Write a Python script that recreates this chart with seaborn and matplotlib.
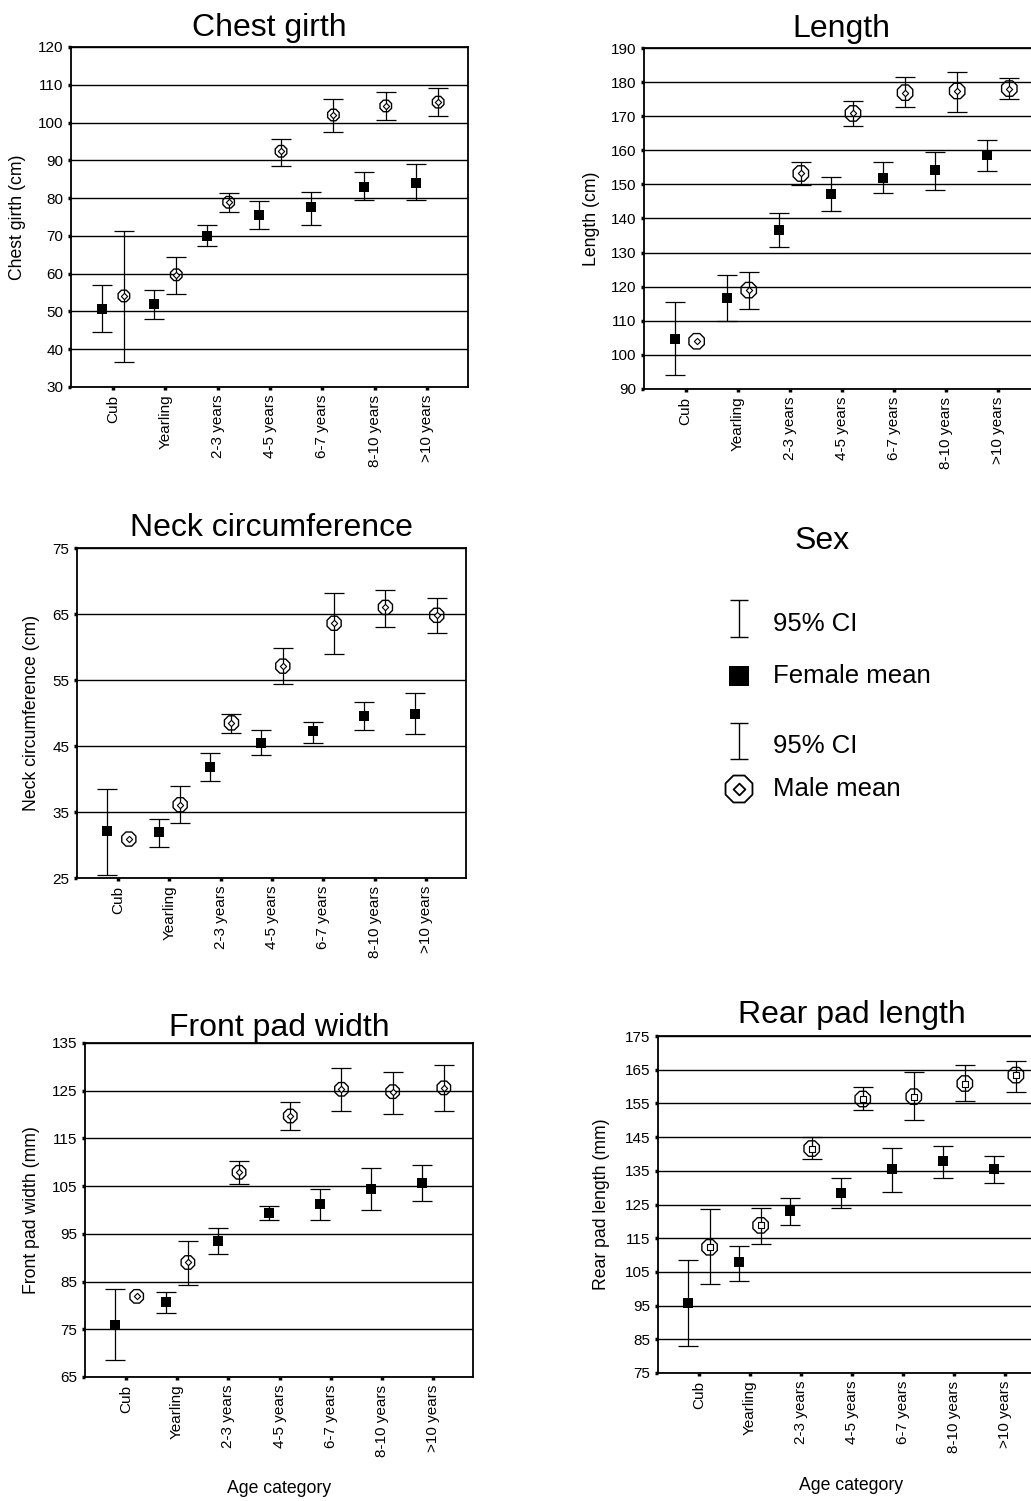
import numpy as np
import matplotlib
matplotlib.use("Agg")
import matplotlib.pyplot as plt
import seaborn as sns

# ── Data ───────────────────────────────────────────────────────────────────────
AGE_CATS = ["Cub", "Yearling", "2-3 years", "4-5 years", "6-7 years", "8-10 years", ">10 years"]

chest_f_mean = [50.7, 52.1, 69.9, 75.4, 77.6, 83.0, 84.0]
chest_f_lo = [44.5, 47.9, 67.2, 71.7, 73.0, 79.6, 79.6]
chest_f_hi = [56.9, 55.8, 73.0, 79.3, 81.6, 86.8, 88.9]
chest_m_mean = [54.1, 59.7, 78.9, 92.4, 102.0, 104.4, 105.4]
chest_m_lo = [36.6, 54.5, 76.4, 88.6, 97.5, 100.6, 101.7]
chest_m_hi = [71.3, 64.4, 81.3, 95.7, 106.2, 108.2, 109.2]

length_f_mean = [104.6, 116.6, 136.6, 147.2, 151.9, 154.3, 158.6]
length_f_lo = [94.0, 109.8, 131.6, 142.3, 147.4, 148.5, 153.9]
length_f_hi = [115.4, 123.5, 141.6, 152.3, 156.5, 159.6, 163.0]
length_m_mean = [104.0, 119.0, 153.2, 170.8, 176.9, 177.4, 178.1]
length_m_lo = [np.nan, 113.5, 149.7, 167.2, 172.6, 171.2, 175.1]
length_m_hi = [np.nan, 124.3, 156.5, 174.6, 181.5, 183.1, 181.1]

neck_f_mean = [32.1, 31.9, 41.8, 45.5, 47.2, 49.5, 49.8]
neck_f_lo = [25.4, 29.7, 39.7, 43.7, 45.5, 47.4, 46.8]
neck_f_hi = [38.5, 33.9, 43.9, 47.4, 48.7, 51.6, 53.1]
neck_m_mean = [30.9, 36.1, 48.5, 57.1, 63.6, 66.0, 64.8]
neck_m_lo = [np.nan, 33.4, 47.0, 54.4, 59.0, 63.1, 62.1]
neck_m_hi = [np.nan, 38.9, 49.9, 59.8, 68.2, 68.6, 67.4]

front_f_mean = [75.9, 80.8, 93.4, 99.4, 101.2, 104.5, 105.7]
front_f_lo = [68.5, 78.4, 90.7, 97.9, 97.9, 99.9, 101.9]
front_f_hi = [83.5, 82.9, 96.3, 100.9, 104.3, 108.9, 109.5]
front_m_mean = [81.9, 89.0, 107.9, 119.7, 125.3, 124.8, 125.6]
front_m_lo = [np.nan, 84.3, 105.5, 116.7, 120.7, 120.2, 120.7]
front_m_hi = [np.nan, 93.6, 110.3, 122.7, 129.8, 129.0, 130.3]

rear_f_mean = [95.7, 107.9, 123.1, 128.5, 135.4, 137.9, 135.4]
rear_f_lo = [83.0, 102.2, 118.8, 124.0, 128.8, 132.9, 131.3]
rear_f_hi = [108.4, 112.8, 127.0, 132.9, 141.9, 142.5, 139.5]
rear_m_mean = [112.3, 118.8, 141.6, 156.3, 157.0, 160.9, 163.4]
rear_m_lo = [101.3, 113.3, 138.5, 153.0, 150.1, 155.7, 158.5]
rear_m_hi = [123.6, 123.9, 145.1, 159.8, 164.3, 166.4, 167.7]

# ── Style ──────────────────────────────────────────────────────────────────────
sns.set_theme(style="white")
plt.rcParams["font.family"] = ["Liberation Sans", "DejaVu Sans"]
plt.rcParams.update({
    "axes.edgecolor": "black",
    "text.color": "black",
    "axes.labelcolor": "black",
    "xtick.color": "black",
    "ytick.color": "black",
})

W, H = 1031, 1501
fig = plt.figure(figsize=(W / 100, H / 100), dpi=100, facecolor="white")


def px_rect(left, top, right, bottom):
    return [left / W, 1 - bottom / H, (right - left) / W, (bottom - top) / H]


panels = [
    dict(title="Chest girth", ylabel="Chest girth (cm)", ylim=(30, 120),
         rect=px_rect(71, 47, 468, 387), lab_x=-0.136, tpad=8, xlabel=False,
         f=(chest_f_mean, chest_f_lo, chest_f_hi), m=(chest_m_mean, chest_m_lo, chest_m_hi),
         msize=9, inner="D"),
    dict(title="Length", ylabel="Length (cm)", ylim=(90, 190),
         rect=px_rect(644, 48, 1039, 389), lab_x=-0.132, tpad=8, xlabel=False,
         f=(length_f_mean, length_f_lo, length_f_hi), m=(length_m_mean, length_m_lo, length_m_hi),
         msize=12, inner="D"),
    dict(title="Neck circumference", ylabel="Neck circumference (cm)", ylim=(25, 75),
         rect=px_rect(77, 548, 466, 878), lab_x=-0.116, tpad=9, xlabel=False,
         f=(neck_f_mean, neck_f_lo, neck_f_hi), m=(neck_m_mean, neck_m_lo, neck_m_hi),
         msize=11, inner="D"),
    dict(title="Front pad width", ylabel="Front pad width (mm)", ylim=(65, 135),
         rect=px_rect(85, 1043, 473, 1377), lab_x=-0.137, tpad=5, xlabel=True,
         f=(front_f_mean, front_f_lo, front_f_hi), m=(front_m_mean, front_m_lo, front_m_hi),
         msize=10.5, inner="D"),
    dict(title="Rear pad length", ylabel="Rear pad length (mm)", ylim=(75, 175),
         rect=px_rect(658, 1036, 1045, 1373), lab_x=-0.145, tpad=9, xlabel=True,
         f=(rear_f_mean, rear_f_lo, rear_f_hi), m=(rear_m_mean, rear_m_lo, rear_m_hi),
         msize=12, inner="s"),
]

x = np.arange(len(AGE_CATS))
OFF = 0.21

for p in panels:
    ax = fig.add_axes(p["rect"])
    lo_y, hi_y = p["ylim"]
    ax.set_ylim(lo_y, hi_y)
    ax.set_xlim(-0.8, len(AGE_CATS) - 1 + 0.78)
    ax.set_yticks(np.arange(lo_y, hi_y + 1, 10))
    ax.yaxis.grid(True, color="black", linewidth=1.0)
    ax.set_axisbelow(True)

    for (mean, lo, hi), dx in ((p["f"], -OFF), (p["m"], OFF)):
        mean, lo, hi = np.array(mean), np.array(lo), np.array(hi)
        ax.errorbar(x + dx, mean, yerr=[mean - lo, hi - mean], fmt="none",
                    ecolor="black", elinewidth=0.9, capsize=7.5, capthick=0.9, zorder=3)

    fm = p["f"][0]
    mm = p["m"][0]
    sns.scatterplot(x=x - OFF, y=fm, marker="s", s=7.5 ** 2, color="black",
                    edgecolor="black", linewidth=0, ax=ax, zorder=4)
    sns.scatterplot(x=x + OFF, y=mm, marker="8", s=p["msize"] ** 2, facecolor="none",
                    edgecolor="black", linewidth=1.0, ax=ax, zorder=4)
    inner_s = 3.2 if p["inner"] == "D" else 4.5
    sns.scatterplot(x=x + OFF, y=mm, marker=p["inner"], s=inner_s ** 2, color="white",
                    edgecolor="black", linewidth=0.8, ax=ax, zorder=5)

    ax.set_xticks(x)
    ax.set_xticklabels(AGE_CATS, rotation=90)
    ax.tick_params(axis="both", direction="out", length=2.5, width=2.5, color="black",
                   labelsize=11, pad=3, bottom=True, left=True)
    for s in ax.spines.values():
        s.set_color("black")
        s.set_linewidth(1.3)

    ax.set_title(p["title"], fontsize=23, pad=p["tpad"])
    ax.set_ylabel(p["ylabel"], fontsize=12.7, va="center")
    ax.yaxis.set_label_coords(p["lab_x"], 0.5)
    if p["xlabel"]:
        ax.set_xlabel("Age category", fontsize=12.7, va="center")
        ax.xaxis.set_label_coords(0.5, -0.335)
    else:
        ax.set_xlabel("")

# ── Legend panel ──────────────────────────────────────────────────────────────
lax = fig.add_axes([0, 0, 1, 1])
lax.set_xlim(0, W)
lax.set_ylim(H, 0)
lax.axis("off")

lax.text(822, 541, "Sex", fontsize=23, ha="center", va="center")
for (y0, y1), ty in (((600, 637), 624), ((723, 759), 746)):
    lax.errorbar([739], [(y0 + y1) / 2], yerr=[[(y1 - y0) / 2], [(y1 - y0) / 2]],
                 fmt="none", ecolor="black", elinewidth=1.0, capsize=6.5, capthick=1.0)
    lax.text(773, ty, "95% CI", fontsize=18.5, ha="left", va="center")
lax.scatter([739], [676], marker="s", s=14 ** 2, color="black", linewidths=0)
lax.text(773, 676, "Female mean", fontsize=18.5, ha="left", va="center")
lax.scatter([739], [789], marker="8", s=21 ** 2, facecolors="none", edgecolors="black",
            linewidths=1.3)
lax.scatter([739], [789], marker="D", s=6 ** 2, facecolors="white", edgecolors="black",
            linewidths=1.3)
lax.text(773, 789, "Male mean", fontsize=18.5, ha="left", va="center")

fig.savefig("out.png", dpi=100, facecolor="white")
